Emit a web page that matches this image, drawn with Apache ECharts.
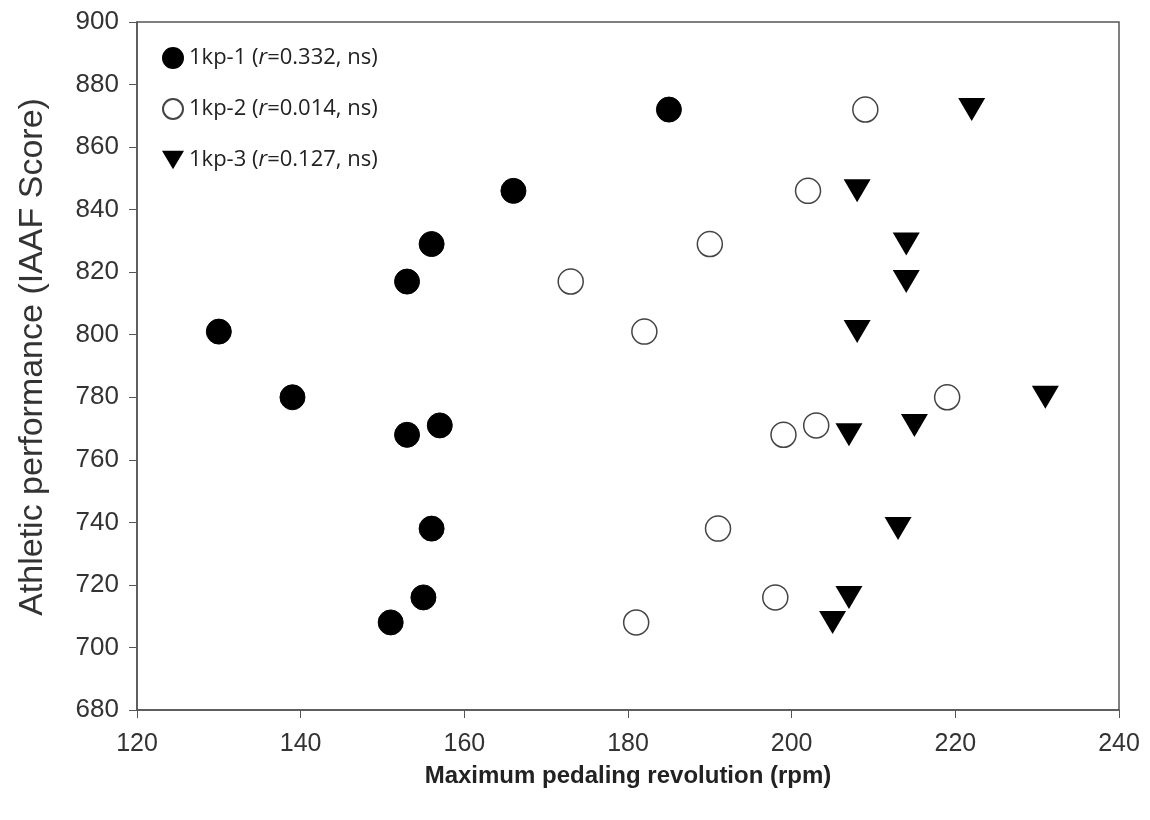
<!DOCTYPE html>
<html>
<head>
<meta charset="utf-8">
<script src="https://cdn.jsdelivr.net/npm/echarts@6/dist/echarts.min.js"></script>
<style>
  html, body { margin: 0; padding: 0; background: #fff; }
  #chart { width: 1150px; height: 820px; }
</style>
</head>
<body>
<div id="chart"></div>
<script>
// athletic performance (IAAF score) of each subject, shared by the three series
var scores = [872, 846, 829, 817, 801, 780, 768, 771, 738, 716, 708];
// maximum pedaling revolution (rpm) per subject
var rpm1 = [185, 166, 156, 153, 130, 139, 153, 157, 156, 155, 151];
var rpm2 = [209, 202, 190, 173, 182, 219, 199, 203, 191, 198, 181];
var rpm3 = [222, 208, 214, 214, 208, 231, 207, 215, 213, 207, 205];
var seriesNames = ['1kp-1', '1kp-2', '1kp-3'];
var rValues = ['0.332', '0.014', '0.127'];

function pairs(xs) {
    return xs.map(function (x, i) { return [x, scores[i]]; });
}

var downTriangle = 'path://M0,0 L20,0 L10,17 Z';

var chart = echarts.init(document.getElementById('chart'));
chart.setOption({
    animation: false,
    textStyle: { fontFamily: 'Liberation Sans, Arial, sans-serif' },
    grid: {
        left: 137, right: 31, top: 22, bottom: 110,
        outerBoundsMode: 'none',
        containLabel: false,
        show: true, borderColor: '#555', borderWidth: 1.5
    },
    legend: {
        orient: 'vertical',
        left: 157,
        top: 42,
        itemWidth: 22,
        itemHeight: 20,
        itemGap: 29,
        data: seriesNames,
        formatter: function (name) {
            var i = seriesNames.indexOf(name);
            return name + ' ({i|r}=' + rValues[i] + ', ns)';
        },
        textStyle: {
            fontFamily: 'Open Sans, DejaVu Sans, sans-serif',
            fontSize: 22,
            color: '#222',
            rich: {
                i: { fontStyle: 'italic', fontFamily: 'Open Sans, DejaVu Sans, sans-serif', fontSize: 22, color: '#222' }
            }
        }
    },
    xAxis: {
        type: 'value',
        min: 120, max: 240, interval: 20,
        name: 'Maximum pedaling revolution (rpm)',
        nameLocation: 'middle',
        nameGap: 54,
        nameMoveOverlap: false,
        nameTextStyle: { fontWeight: 'bold', fontSize: 24, color: '#222' },
        axisLine: { lineStyle: { color: '#555', width: 1.5 } },
        axisTick: { inside: false, length: 8, lineStyle: { color: '#555' } },
        axisLabel: { fontSize: 25, color: '#333', margin: 22 },
        splitLine: { show: false }
    },
    yAxis: {
        type: 'value',
        min: 680, max: 900, interval: 20,
        name: 'Athletic performance (IAAF Score)',
        nameLocation: 'middle',
        nameGap: 87,
        nameMoveOverlap: false,
        nameTextStyle: { fontSize: 34, color: '#333', padding: [0, 0, 0, 18] },
        axisLine: { show: true, lineStyle: { color: '#555', width: 1.5 } },
        axisTick: { show: true, length: 8, lineStyle: { color: '#555' } },
        axisLabel: { fontSize: 26, color: '#333', margin: 18 },
        splitLine: { show: false }
    },
    series: [
        {
            name: seriesNames[0],
            type: 'scatter',
            symbol: 'circle',
            symbolSize: 25,
            itemStyle: { color: '#000', borderColor: '#000', borderWidth: 1, opacity: 1 },
            data: pairs(rpm1)
        },
        {
            name: seriesNames[1],
            type: 'scatter',
            symbol: 'circle',
            symbolSize: 25,
            itemStyle: { color: '#fff', borderColor: '#444', borderWidth: 1.5, opacity: 1 },
            data: pairs(rpm2)
        },
        {
            name: seriesNames[2],
            type: 'scatter',
            symbol: downTriangle,
            symbolSize: [27, 23],
            itemStyle: { color: '#000', opacity: 1 },
            data: pairs(rpm3)
        }
    ]
});
</script>
</body>
</html>
